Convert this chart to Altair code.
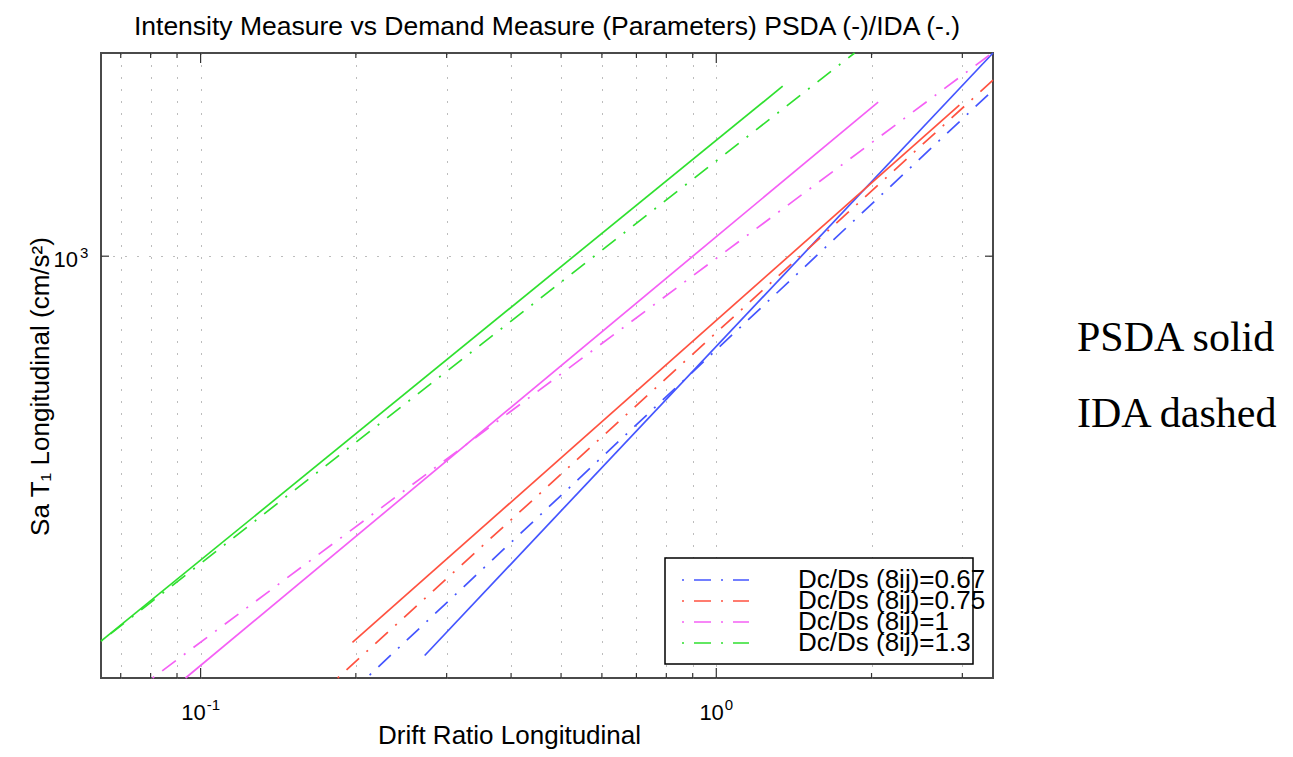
import altair as alt
import pandas as pd

# ---------------- data ----------------
series_labels = ["Dc/Ds (8ij)=0.67", "Dc/Ds (8ij)=0.75", "Dc/Ds (8ij)=1", "Dc/Ds (8ij)=1.3"]
series_colors = ["#4455ff", "#ff5240", "#f560f5", "#2fe02f"]

# PSDA fits (solid lines): end points, drift ratio and Sa T1 (cm/s^2)
psda_drift = [[0.272, 3.44], [0.197, 2.96], [0.0935, 2.06], [0.0641, 1.345]]
psda_sa = [[166, 2494], [176, 1972], [150, 2000], [177, 2148]]

# IDA fits (dash-dot lines): end points
ida_drift = [[0.2127, 3.44], [0.1844, 3.44], [0.0807, 3.42], [0.0641, 1.854]]
ida_sa = [[152, 2110], [150, 2207], [150, 2490], [177, 2494]]

x_domain = [0.0641, 3.44]
y_domain = [150, 2494]
x_ticks_major = [0.1, 1]
x_ticks_minor = [0.07, 0.08, 0.09, 0.2, 0.3, 0.4, 0.5, 0.6, 0.7, 0.8, 0.9, 2, 3]
y_ticks_major = [1000]
x_tick_exp = ["-1", "0"]
y_tick_exp = ["3"]

title_text = "Intensity Measure vs Demand Measure (Parameters) PSDA (-)/IDA (-.)"
x_title = "Drift Ratio Longitudinal"
y_title = "Sa T₁ Longitudinal (cm/s²)"
note_lines = ["PSDA solid", "IDA dashed"]

# ---------------- build tables ----------------
rows = []
for i, lab in enumerate(series_labels):
    for j in range(2):
        rows.append({"series": lab, "kind": "PSDA", "drift": psda_drift[i][j],
                     "sa": psda_sa[i][j], "key": f"P{i}", "o": j})
        rows.append({"series": lab, "kind": "IDA", "drift": ida_drift[i][j],
                     "sa": ida_sa[i][j], "key": f"I{i}", "o": j})
df = pd.DataFrame(rows)

W, H = 892, 625
SANS = "Liberation Sans"
DASHDOT = [2, 10, 17, 10]
BASE_FS, EXP_FS = 22, 15

xs = alt.Scale(type="log", domain=x_domain, nice=False)
ys = alt.Scale(type="log", domain=y_domain, nice=False)

x_axis = alt.Axis(values=sorted(x_ticks_major + x_ticks_minor), labels=False,
                  title=x_title, grid=True,
                  titleX=408, titleY=65, titleBaseline="alphabetic", titleAlign="center")
y_axis = alt.Axis(values=y_ticks_major, labels=False, title=y_title, grid=True,
                  titleX=-53, titleY=333, titleAngle=270, titleBaseline="alphabetic",
                  titleAlign="center")

color = alt.Color("series:N", scale=alt.Scale(domain=series_labels, range=series_colors), legend=None)

solid = alt.Chart(df[df.kind == "PSDA"]).mark_line(strokeWidth=1.7).encode(
    x=alt.X("drift:Q", scale=xs, axis=x_axis),
    y=alt.Y("sa:Q", scale=ys, axis=y_axis),
    color=color, detail="key:N", order="o:Q")

dashed = alt.Chart(df[df.kind == "IDA"]).mark_line(strokeWidth=1.7, strokeDash=DASHDOT).encode(
    x=alt.X("drift:Q", scale=xs, axis=x_axis),
    y=alt.Y("sa:Q", scale=ys, axis=y_axis),
    color=color, detail="key:N", order="o:Q")

# inward ticks (MATLAB style)
TICK = "#333333"
layers = [solid, dashed]
for vals, ln in [(x_ticks_major, 10), (x_ticks_minor, 5)]:
    tdf = pd.DataFrame({"drift": vals})
    layers.append(alt.Chart(tdf).mark_rule(color=TICK, strokeWidth=1.2).encode(
        x=alt.X("drift:Q", scale=xs, axis=x_axis), y=alt.value(H), y2=alt.value(H - ln)))
    layers.append(alt.Chart(tdf).mark_rule(color=TICK, strokeWidth=1.2).encode(
        x=alt.X("drift:Q", scale=xs, axis=x_axis), y=alt.value(0), y2=alt.value(ln)))
ydf = pd.DataFrame({"sa": y_ticks_major})
layers.append(alt.Chart(ydf).mark_rule(color=TICK, strokeWidth=1.2).encode(
    y=alt.Y("sa:Q", scale=ys, axis=y_axis), x=alt.value(0), x2=alt.value(8)))
layers.append(alt.Chart(ydf).mark_rule(color=TICK, strokeWidth=1.2).encode(
    y=alt.Y("sa:Q", scale=ys, axis=y_axis), x=alt.value(W - 8), x2=alt.value(W)))

# tick labels "10" with raised exponent, whole label centred on its tick
base_w = 2 * 0.556 * BASE_FS
for v, e in zip(x_ticks_major, x_tick_exp):
    exp_w = sum(0.333 if c == "-" else 0.556 for c in e) * EXP_FS
    shift = base_w - (base_w + 1 + exp_w) / 2
    tdf = pd.DataFrame({"drift": [v], "b": ["10"], "e": [e]})
    layers.append(alt.Chart(tdf).mark_text(font=SANS, fontSize=BASE_FS, align="right",
                                           baseline="alphabetic", dx=shift, color="black").encode(
        x=alt.X("drift:Q", scale=xs, axis=x_axis), y=alt.value(H + 42), text="b:N"))
    layers.append(alt.Chart(tdf).mark_text(font=SANS, fontSize=EXP_FS, align="left",
                                           baseline="alphabetic", dx=shift + 1, color="black").encode(
        x=alt.X("drift:Q", scale=xs, axis=x_axis), y=alt.value(H + 32), text="e:N"))
for v, e in zip(y_ticks_major, y_tick_exp):
    tdf = pd.DataFrame({"sa": [v], "b": ["10"], "e": [e]})
    layers.append(alt.Chart(tdf).mark_text(font=SANS, fontSize=BASE_FS, align="right",
                                           baseline="alphabetic", dy=11, color="black").encode(
        y=alt.Y("sa:Q", scale=ys, axis=y_axis), x=alt.value(-23), text="b:N"))
    layers.append(alt.Chart(tdf).mark_text(font=SANS, fontSize=EXP_FS, align="left",
                                           baseline="alphabetic", dy=2, color="black").encode(
        y=alt.Y("sa:Q", scale=ys, axis=y_axis), x=alt.value(-21), text="e:N"))

# legend box
one = pd.DataFrame({"a": [0]})
layers.append(alt.Chart(one).mark_rect(fill="white", stroke="black", strokeWidth=1.5).encode(
    x=alt.value(564), x2=alt.value(872), y=alt.value(505), y2=alt.value(611)))
for i, lab in enumerate(series_labels):
    yy = 527 + i * 21
    layers.append(alt.Chart(one).mark_rule(color=series_colors[i], strokeWidth=1.7,
                                           strokeDash=DASHDOT).encode(
        x=alt.value(581), x2=alt.value(648), y=alt.value(yy)))
    layers.append(alt.Chart(pd.DataFrame({"t": [lab]})).mark_text(
        font=SANS, fontSize=26, align="left", baseline="alphabetic", color="black").encode(
        text="t:N", x=alt.value(697), y=alt.value(yy + 8)))

# title
layers.append(alt.Chart(pd.DataFrame({"t": [title_text]})).mark_text(
    font=SANS, fontSize=26.5, align="center", baseline="alphabetic",
    color="black").encode(text="t:N", x=alt.value(W / 2), y=alt.value(-18)))

# side notes
for i, t in enumerate(note_lines):
    layers.append(alt.Chart(pd.DataFrame({"t": [t]})).mark_text(
        font="Liberation Serif", fontSize=42, align="left", baseline="alphabetic",
        color="black").encode(text="t:N", x=alt.value(976), y=alt.value(298 + i * 76)))

chart = alt.layer(*layers).properties(
    width=W, height=H,
    padding={"left": 93, "top": 45, "right": 287, "bottom": 71},
    autosize=alt.AutoSizeParams(type="none"),
).configure_view(stroke="#4a4a4a", strokeWidth=2).configure_axis(
    domain=False, ticks=False, tickSize=0, gridColor="#7a7a7a", gridDash=[1, 11],
    gridWidth=1, titleFont=SANS, titleFontSize=26, titleFontWeight="normal",
    titleColor="black")

chart.save("out.html", embed_options={"renderer": "svg", "actions": False})
